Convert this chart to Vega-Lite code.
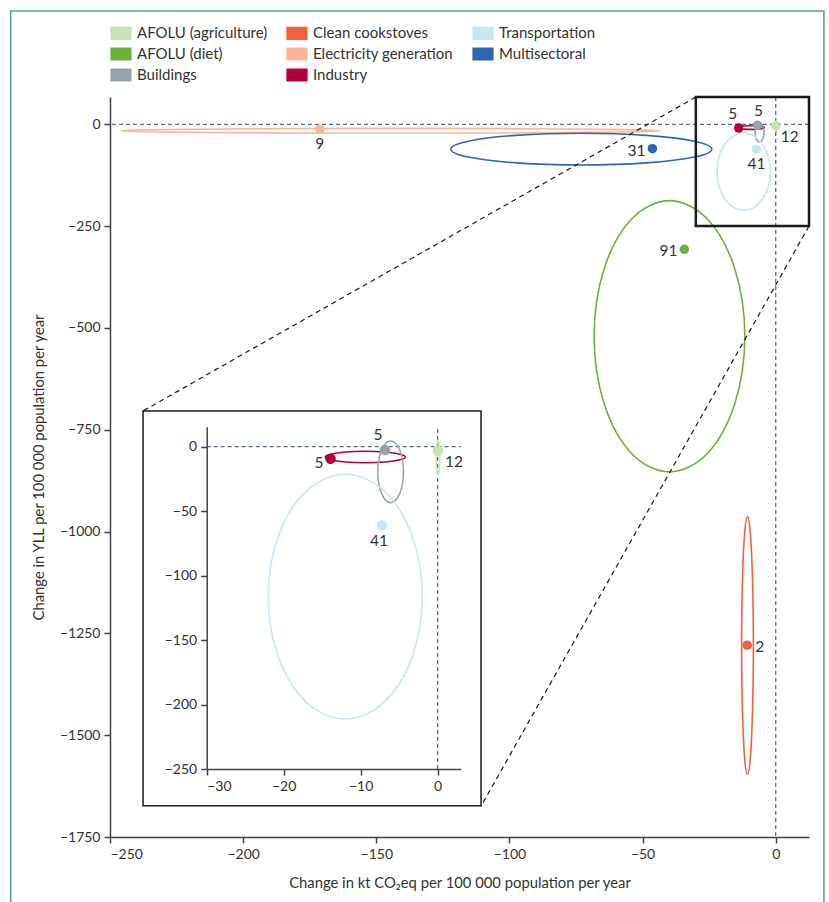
{
  "$schema": "https://vega.github.io/schema/vega-lite/v6.json",
  "width": 699,
  "height": 740,
  "autosize": {"type": "none"},
  "padding": {"left": 110, "top": 97, "right": 20, "bottom": 65},
  "background": "white",
  "config": {
    "view": {"stroke": null},
    "font": "Lato",
    "axis": {
      "labelFont": "Lato", "labelFontSize": 14, "labelColor": "#333",
      "domainColor": "#444", "tickColor": "#444", "domainWidth": 1.5, "tickWidth": 1.5,
      "tickSize": 6, "labelPadding": 4, "grid": false,
      "titleFont": "Lato", "titleFontSize": 14.8, "titleFontWeight": "normal", "titleColor": "#333"
    },
    "text": {"font": "Lato", "fontSize": 15.5, "color": "#333"}
  },
  "datasets": {
    "centers": [
      {"sector": "AFOLU (agriculture)", "x": 0.04, "y": -3.1, "n": 12},
      {"sector": "AFOLU (diet)", "x": -34.3, "y": -307, "n": 91},
      {"sector": "Buildings", "x": -6.84, "y": -2.6, "n": 5},
      {"sector": "Clean cookstoves", "x": -10.7, "y": -1279, "n": 2},
      {"sector": "Electricity generation", "x": -171.2, "y": -12, "n": 9},
      {"sector": "Industry", "x": -13.9, "y": -9.3, "n": 5},
      {"sector": "Transportation", "x": -7.23, "y": -61, "n": 41},
      {"sector": "Multisectoral", "x": -46.3, "y": -60, "n": 31}
    ],
    "ellipses": [
      {"sector": "Electricity generation", "i": 0, "x": -43.1, "y": -16},
      {"sector": "Electricity generation", "i": 1, "x": -56.7, "y": -13},
      {"sector": "Electricity generation", "i": 2, "x": -93.8, "y": -10.8},
      {"sector": "Electricity generation", "i": 3, "x": -144.5, "y": -10},
      {"sector": "Electricity generation", "i": 4, "x": -195.2, "y": -10.8},
      {"sector": "Electricity generation", "i": 5, "x": -232.3, "y": -13},
      {"sector": "Electricity generation", "i": 6, "x": -245.9, "y": -16},
      {"sector": "Electricity generation", "i": 7, "x": -232.3, "y": -19},
      {"sector": "Electricity generation", "i": 8, "x": -195.2, "y": -21.2},
      {"sector": "Electricity generation", "i": 9, "x": -144.5, "y": -22},
      {"sector": "Electricity generation", "i": 10, "x": -93.8, "y": -21.2},
      {"sector": "Electricity generation", "i": 11, "x": -56.7, "y": -19},
      {"sector": "Multisectoral", "i": 0, "x": -24, "y": -61},
      {"sector": "Multisectoral", "i": 1, "x": -30.6, "y": -41.5},
      {"sector": "Multisectoral", "i": 2, "x": -48.5, "y": -27.2},
      {"sector": "Multisectoral", "i": 3, "x": -73, "y": -22},
      {"sector": "Multisectoral", "i": 4, "x": -97.5, "y": -27.2},
      {"sector": "Multisectoral", "i": 5, "x": -115.4, "y": -41.5},
      {"sector": "Multisectoral", "i": 6, "x": -122, "y": -61},
      {"sector": "Multisectoral", "i": 7, "x": -115.4, "y": -80.5},
      {"sector": "Multisectoral", "i": 8, "x": -97.5, "y": -94.8},
      {"sector": "Multisectoral", "i": 9, "x": -73, "y": -100},
      {"sector": "Multisectoral", "i": 10, "x": -48.5, "y": -94.8},
      {"sector": "Multisectoral", "i": 11, "x": -30.6, "y": -80.5},
      {"sector": "AFOLU (diet)", "i": 0, "x": -11.6, "y": -520.5},
      {"sector": "AFOLU (diet)", "i": 1, "x": -15.4, "y": -354},
      {"sector": "AFOLU (diet)", "i": 2, "x": -25.75, "y": -232.1},
      {"sector": "AFOLU (diet)", "i": 3, "x": -39.9, "y": -187.5},
      {"sector": "AFOLU (diet)", "i": 4, "x": -54.05, "y": -232.1},
      {"sector": "AFOLU (diet)", "i": 5, "x": -64.4, "y": -354},
      {"sector": "AFOLU (diet)", "i": 6, "x": -68.2, "y": -520.5},
      {"sector": "AFOLU (diet)", "i": 7, "x": -64.4, "y": -687},
      {"sector": "AFOLU (diet)", "i": 8, "x": -54.05, "y": -808.9},
      {"sector": "AFOLU (diet)", "i": 9, "x": -39.9, "y": -853.5},
      {"sector": "AFOLU (diet)", "i": 10, "x": -25.75, "y": -808.9},
      {"sector": "AFOLU (diet)", "i": 11, "x": -15.4, "y": -687},
      {"sector": "Clean cookstoves", "i": 0, "x": -8.4, "y": -1280},
      {"sector": "Clean cookstoves", "i": 1, "x": -8.7, "y": -1122},
      {"sector": "Clean cookstoves", "i": 2, "x": -9.5, "y": -1006.3},
      {"sector": "Clean cookstoves", "i": 3, "x": -10.6, "y": -964},
      {"sector": "Clean cookstoves", "i": 4, "x": -11.7, "y": -1006.3},
      {"sector": "Clean cookstoves", "i": 5, "x": -12.5, "y": -1122},
      {"sector": "Clean cookstoves", "i": 6, "x": -12.8, "y": -1280},
      {"sector": "Clean cookstoves", "i": 7, "x": -12.5, "y": -1438},
      {"sector": "Clean cookstoves", "i": 8, "x": -11.7, "y": -1553.7},
      {"sector": "Clean cookstoves", "i": 9, "x": -10.6, "y": -1596},
      {"sector": "Clean cookstoves", "i": 10, "x": -9.5, "y": -1553.7},
      {"sector": "Clean cookstoves", "i": 11, "x": -8.7, "y": -1438},
      {"sector": "Industry", "i": 0, "x": -4.2, "y": -8},
      {"sector": "Industry", "i": 1, "x": -4.9, "y": -5.8},
      {"sector": "Industry", "i": 2, "x": -6.8, "y": -4.19},
      {"sector": "Industry", "i": 3, "x": -9.4, "y": -3.6},
      {"sector": "Industry", "i": 4, "x": -12.0, "y": -4.19},
      {"sector": "Industry", "i": 5, "x": -13.9, "y": -5.8},
      {"sector": "Industry", "i": 6, "x": -14.6, "y": -8},
      {"sector": "Industry", "i": 7, "x": -13.9, "y": -10.2},
      {"sector": "Industry", "i": 8, "x": -12.0, "y": -11.81},
      {"sector": "Industry", "i": 9, "x": -9.4, "y": -12.4},
      {"sector": "Industry", "i": 10, "x": -6.8, "y": -11.81},
      {"sector": "Industry", "i": 11, "x": -4.9, "y": -10.2},
      {"sector": "Buildings", "i": 0, "x": -4.43, "y": -19.5},
      {"sector": "Buildings", "i": 1, "x": -4.65, "y": -7.55},
      {"sector": "Buildings", "i": 2, "x": -5.27, "y": 1.2},
      {"sector": "Buildings", "i": 3, "x": -6.1, "y": 4.4},
      {"sector": "Buildings", "i": 4, "x": -6.94, "y": 1.2},
      {"sector": "Buildings", "i": 5, "x": -7.55, "y": -7.55},
      {"sector": "Buildings", "i": 6, "x": -7.77, "y": -19.5},
      {"sector": "Buildings", "i": 7, "x": -7.55, "y": -31.45},
      {"sector": "Buildings", "i": 8, "x": -6.94, "y": -40.2},
      {"sector": "Buildings", "i": 9, "x": -6.1, "y": -43.4},
      {"sector": "Buildings", "i": 10, "x": -5.27, "y": -40.2},
      {"sector": "Buildings", "i": 11, "x": -4.65, "y": -31.45},
      {"sector": "AFOLU (agriculture)", "i": 0, "x": 0.3, "y": -8.4},
      {"sector": "AFOLU (agriculture)", "i": 1, "x": 0.27, "y": -1.6},
      {"sector": "AFOLU (agriculture)", "i": 2, "x": 0.18, "y": 3.38},
      {"sector": "AFOLU (agriculture)", "i": 3, "x": 0.06, "y": 5.2},
      {"sector": "AFOLU (agriculture)", "i": 4, "x": -0.06, "y": 3.38},
      {"sector": "AFOLU (agriculture)", "i": 5, "x": -0.15, "y": -1.6},
      {"sector": "AFOLU (agriculture)", "i": 6, "x": -0.18, "y": -8.4},
      {"sector": "AFOLU (agriculture)", "i": 7, "x": -0.15, "y": -15.2},
      {"sector": "AFOLU (agriculture)", "i": 8, "x": -0.06, "y": -20.18},
      {"sector": "AFOLU (agriculture)", "i": 9, "x": 0.06, "y": -22},
      {"sector": "AFOLU (agriculture)", "i": 10, "x": 0.18, "y": -20.18},
      {"sector": "AFOLU (agriculture)", "i": 11, "x": 0.27, "y": -15.2},
      {"sector": "Transportation", "i": 0, "x": -2.0, "y": -116.3},
      {"sector": "Transportation", "i": 1, "x": -3.34, "y": -68.85},
      {"sector": "Transportation", "i": 2, "x": -7.0, "y": -34.1},
      {"sector": "Transportation", "i": 3, "x": -12.0, "y": -21.4},
      {"sector": "Transportation", "i": 4, "x": -17.0, "y": -34.1},
      {"sector": "Transportation", "i": 5, "x": -20.66, "y": -68.85},
      {"sector": "Transportation", "i": 6, "x": -22.0, "y": -116.3},
      {"sector": "Transportation", "i": 7, "x": -20.66, "y": -163.75},
      {"sector": "Transportation", "i": 8, "x": -17.0, "y": -198.5},
      {"sector": "Transportation", "i": 9, "x": -12.0, "y": -211.2},
      {"sector": "Transportation", "i": 10, "x": -7.0, "y": -198.5},
      {"sector": "Transportation", "i": 11, "x": -3.34, "y": -163.75}
    ],
    "zoombox": [{"x": -30, "x2": 12.5, "y": -250, "y2": 67}],
    "connectors": [
      {"x": -30, "y": 67, "x2": -237.7, "y2": -704.3},
      {"x": 12.5, "y": -250, "x2": -110.7, "y2": -1674.6}
    ],
    "frame": [{"x": -287.3, "x2": 18.1, "y": 278.3, "y2": -1950}],
    "insetframe": [{"x": -38.27, "x2": 5.64, "y": 27.7, "y2": -278.6}],
    "zero": [{"v": 0}]
  },
  "layer": [
    {
      "layer": [
        {
          "data": {"name": "frame"},
          "mark": {"type": "rect", "fill": null, "stroke": "#4aa57a", "strokeWidth": 1.5},
          "encoding": {
            "x": {"field": "x", "type": "quantitative", "title": "Change in kt CO₂eq per 100 000 population per year"},
            "x2": {"field": "x2"},
            "y": {"field": "y", "type": "quantitative", "title": "Change in YLL per 100 000 population per year"},
            "y2": {"field": "y2"}
          }
        },
        {
          "data": {"name": "ellipses"},
          "mark": {"type": "line", "interpolate": "cardinal-closed", "strokeWidth": 1.6},
          "encoding": {
            "x": {"field": "x", "type": "quantitative",
              "scale": {"domain": [-250, 12.5], "nice": false, "zero": false},
              "axis": {"values": [-250, -200, -150, -100, -50, 0], "format": "d", "titlePadding": 14},
              "title": "Change in kt CO₂eq per 100 000 population per year"},
            "y": {"field": "y", "type": "quantitative",
              "scale": {"domain": [-1750, 67], "nice": false, "zero": false},
              "axis": {"values": [0, -250, -500, -750, -1000, -1250, -1500, -1750], "format": "d", "titlePadding": 13},
              "title": "Change in YLL per 100 000 population per year"},
            "color": {"field": "sector", "type": "nominal",
              "scale": {
                "domain": ["AFOLU (agriculture)", "AFOLU (diet)", "Buildings", "Clean cookstoves", "Electricity generation", "Industry", "Transportation", "Multisectoral"],
                "range": ["#c8e2b4", "#6ab23c", "#97a3aa", "#f2613f", "#fcb59b", "#b3003b", "#c6e6f1", "#2d67b0"]
              },
              "legend": {
                "orient": "none", "legendX": 0, "legendY": -75, "columns": 3, "columnPadding": 16,
                "rowPadding": 1, "title": null, "symbolType": "M-1,-0.6H1V0.6H-1Z", "symbolSize": 400,
                "labelFontSize": 15, "labelFont": "Lato", "labelColor": "#333", "labelOffset": 5,
                "symbolStrokeColor": "#333", "symbolStrokeWidth": 1.2,
                "encode": {"symbols": {
                  "enter": {"stroke": {"value": "#333"}, "strokeWidth": {"value": 1.2}},
                  "update": {"stroke": {"value": "#333"}, "strokeWidth": {"value": 1.2}, "fill": {"scale": "color", "field": "value"}, "opacity": {"value": 1}}}}
              }
            },
            "order": {"field": "i", "type": "quantitative"}
          }
        },
        {
          "data": {"name": "zero"},
          "mark": {"type": "rule", "strokeDash": [4, 3], "color": "#56707f", "strokeWidth": 1.3},
          "encoding": {"y": {"field": "v", "type": "quantitative", "title": "Change in YLL per 100 000 population per year"}}
        },
        {
          "data": {"name": "zero"},
          "mark": {"type": "rule", "strokeDash": [4, 3], "color": "#56707f", "strokeWidth": 1.3},
          "encoding": {"x": {"field": "v", "type": "quantitative", "title": "Change in kt CO₂eq per 100 000 population per year"}}
        },
        {
          "data": {"name": "centers"},
          "mark": {"type": "circle", "size": 90, "opacity": 1},
          "encoding": {
            "x": {"field": "x", "type": "quantitative", "title": "Change in kt CO₂eq per 100 000 population per year"},
            "y": {"field": "y", "type": "quantitative", "title": "Change in YLL per 100 000 population per year"},
            "color": {"field": "sector", "type": "nominal"}
          }
        },
        {
          "data": {"name": "centers"},
          "transform": [{"filter": {"field": "sector", "oneOf": ["Electricity generation", "Transportation"]}}],
          "mark": {"type": "text", "dy": 15, "align": "center", "baseline": "middle"},
          "encoding": {
            "x": {"field": "x", "type": "quantitative", "title": "Change in kt CO₂eq per 100 000 population per year"},
            "y": {"field": "y", "type": "quantitative", "title": "Change in YLL per 100 000 population per year"},
            "text": {"field": "n"}
          }
        },
        {
          "data": {"name": "centers"},
          "transform": [{"filter": {"field": "sector", "oneOf": ["Multisectoral", "AFOLU (diet)"]}}],
          "mark": {"type": "text", "dx": -7, "dy": 2, "align": "right", "baseline": "middle"},
          "encoding": {
            "x": {"field": "x", "type": "quantitative", "title": "Change in kt CO₂eq per 100 000 population per year"},
            "y": {"field": "y", "type": "quantitative", "title": "Change in YLL per 100 000 population per year"},
            "text": {"field": "n"}
          }
        },
        {
          "data": {"name": "centers"},
          "transform": [{"filter": {"field": "sector", "equal": "Clean cookstoves"}}],
          "mark": {"type": "text", "dx": 8, "dy": 2, "align": "left", "baseline": "middle"},
          "encoding": {
            "x": {"field": "x", "type": "quantitative", "title": "Change in kt CO₂eq per 100 000 population per year"},
            "y": {"field": "y", "type": "quantitative", "title": "Change in YLL per 100 000 population per year"},
            "text": {"field": "n"}
          }
        },
        {
          "data": {"name": "centers"},
          "transform": [{"filter": {"field": "sector", "equal": "Industry"}}],
          "mark": {"type": "text", "dx": -6, "dy": -14, "align": "center", "baseline": "middle"},
          "encoding": {
            "x": {"field": "x", "type": "quantitative", "title": "Change in kt CO₂eq per 100 000 population per year"},
            "y": {"field": "y", "type": "quantitative", "title": "Change in YLL per 100 000 population per year"},
            "text": {"field": "n"}
          }
        },
        {
          "data": {"name": "centers"},
          "transform": [{"filter": {"field": "sector", "equal": "Buildings"}}],
          "mark": {"type": "text", "dx": 1, "dy": -14, "align": "center", "baseline": "middle"},
          "encoding": {
            "x": {"field": "x", "type": "quantitative", "title": "Change in kt CO₂eq per 100 000 population per year"},
            "y": {"field": "y", "type": "quantitative", "title": "Change in YLL per 100 000 population per year"},
            "text": {"field": "n"}
          }
        },
        {
          "data": {"name": "centers"},
          "transform": [{"filter": {"field": "sector", "equal": "AFOLU (agriculture)"}}],
          "mark": {"type": "text", "dx": 5, "dy": 11, "align": "left", "baseline": "middle"},
          "encoding": {
            "x": {"field": "x", "type": "quantitative", "title": "Change in kt CO₂eq per 100 000 population per year"},
            "y": {"field": "y", "type": "quantitative", "title": "Change in YLL per 100 000 population per year"},
            "text": {"field": "n"}
          }
        },
        {
          "data": {"name": "zoombox"},
          "mark": {"type": "rect", "fill": null, "stroke": "#1a1a1a", "strokeWidth": 2.5},
          "encoding": {
            "x": {"field": "x", "type": "quantitative", "title": "Change in kt CO₂eq per 100 000 population per year"},
            "x2": {"field": "x2"},
            "y": {"field": "y", "type": "quantitative", "title": "Change in YLL per 100 000 population per year"},
            "y2": {"field": "y2"}
          }
        },
        {
          "data": {"name": "connectors"},
          "mark": {"type": "rule", "strokeDash": [5, 4], "color": "#1a1a1a", "strokeWidth": 1.2},
          "encoding": {
            "x": {"field": "x", "type": "quantitative", "title": "Change in kt CO₂eq per 100 000 population per year"},
            "x2": {"field": "x2"},
            "y": {"field": "y", "type": "quantitative", "title": "Change in YLL per 100 000 population per year"},
            "y2": {"field": "y2"}
          }
        }
      ]
    },
    {
      "layer": [
        {
          "data": {"name": "insetframe"},
          "mark": {"type": "rect", "fill": "white", "stroke": "#1a1a1a", "strokeWidth": 1.5},
          "encoding": {
            "x": {"field": "x", "type": "quantitative",
              "scale": {"domain": [-30, 3], "range": [96.7, 350.7], "nice": false, "zero": false},
              "axis": {"orient": "bottom", "offset": -68, "values": [-30, -20, -10, 0], "format": "d", "title": null, "zindex": 1}},
            "x2": {"field": "x2"},
            "y": {"field": "y", "type": "quantitative",
              "scale": {"domain": [-250, 15.5], "range": [672, 329.7], "nice": false, "zero": false},
              "axis": {"orient": "left", "offset": -96.7, "values": [0, -50, -100, -150, -200, -250], "format": "d", "title": null, "zindex": 1}},
            "y2": {"field": "y2"}
          }
        },
        {
          "data": {"name": "zero"},
          "mark": {"type": "rule", "strokeDash": [4, 3], "color": "#56707f", "strokeWidth": 1.3},
          "encoding": {
            "y": {"field": "v", "type": "quantitative", "title": null},
            "x": {"datum": -30, "type": "quantitative"},
            "x2": {"datum": 3}
          }
        },
        {
          "data": {"name": "zero"},
          "mark": {"type": "rule", "strokeDash": [4, 3], "color": "#56707f", "strokeWidth": 1.3},
          "encoding": {
            "x": {"field": "v", "type": "quantitative", "title": null},
            "y": {"datum": -250, "type": "quantitative"},
            "y2": {"datum": 15.5}
          }
        },
        {
          "data": {"name": "ellipses"},
          "transform": [{"filter": {"field": "sector", "oneOf": ["AFOLU (agriculture)", "Buildings", "Industry", "Transportation"]}}],
          "mark": {"type": "line", "interpolate": "cardinal-closed", "strokeWidth": 1.5},
          "encoding": {
            "x": {"field": "x", "type": "quantitative", "title": null},
            "y": {"field": "y", "type": "quantitative", "title": null},
            "color": {"field": "sector", "type": "nominal"},
            "order": {"field": "i", "type": "quantitative"}
          }
        },
        {
          "data": {"name": "centers"},
          "transform": [{"filter": {"field": "sector", "oneOf": ["AFOLU (agriculture)", "Buildings", "Industry", "Transportation"]}}],
          "mark": {"type": "circle", "size": 110, "opacity": 1},
          "encoding": {
            "x": {"field": "x", "type": "quantitative", "title": null},
            "y": {"field": "y", "type": "quantitative", "title": null},
            "color": {"field": "sector", "type": "nominal"}
          }
        },
        {
          "data": {"name": "centers"},
          "transform": [{"filter": {"field": "sector", "equal": "Industry"}}],
          "mark": {"type": "text", "dx": -7, "dy": 4, "align": "right", "baseline": "middle"},
          "encoding": {
            "x": {"field": "x", "type": "quantitative", "title": null},
            "y": {"field": "y", "type": "quantitative", "title": null},
            "text": {"field": "n"}
          }
        },
        {
          "data": {"name": "centers"},
          "transform": [{"filter": {"field": "sector", "equal": "Buildings"}}],
          "mark": {"type": "text", "dx": -7, "dy": -15, "align": "center", "baseline": "middle"},
          "encoding": {
            "x": {"field": "x", "type": "quantitative", "title": null},
            "y": {"field": "y", "type": "quantitative", "title": null},
            "text": {"field": "n"}
          }
        },
        {
          "data": {"name": "centers"},
          "transform": [{"filter": {"field": "sector", "equal": "AFOLU (agriculture)"}}],
          "mark": {"type": "text", "dx": 7, "dy": 11, "align": "left", "baseline": "middle"},
          "encoding": {
            "x": {"field": "x", "type": "quantitative", "title": null},
            "y": {"field": "y", "type": "quantitative", "title": null},
            "text": {"field": "n"}
          }
        },
        {
          "data": {"name": "centers"},
          "transform": [{"filter": {"field": "sector", "equal": "Transportation"}}],
          "mark": {"type": "text", "dx": -3, "dy": 16, "align": "center", "baseline": "middle"},
          "encoding": {
            "x": {"field": "x", "type": "quantitative", "title": null},
            "y": {"field": "y", "type": "quantitative", "title": null},
            "text": {"field": "n"}
          }
        }
      ]
    }
  ],
  "resolve": {"scale": {"x": "independent", "y": "independent"}}
}
